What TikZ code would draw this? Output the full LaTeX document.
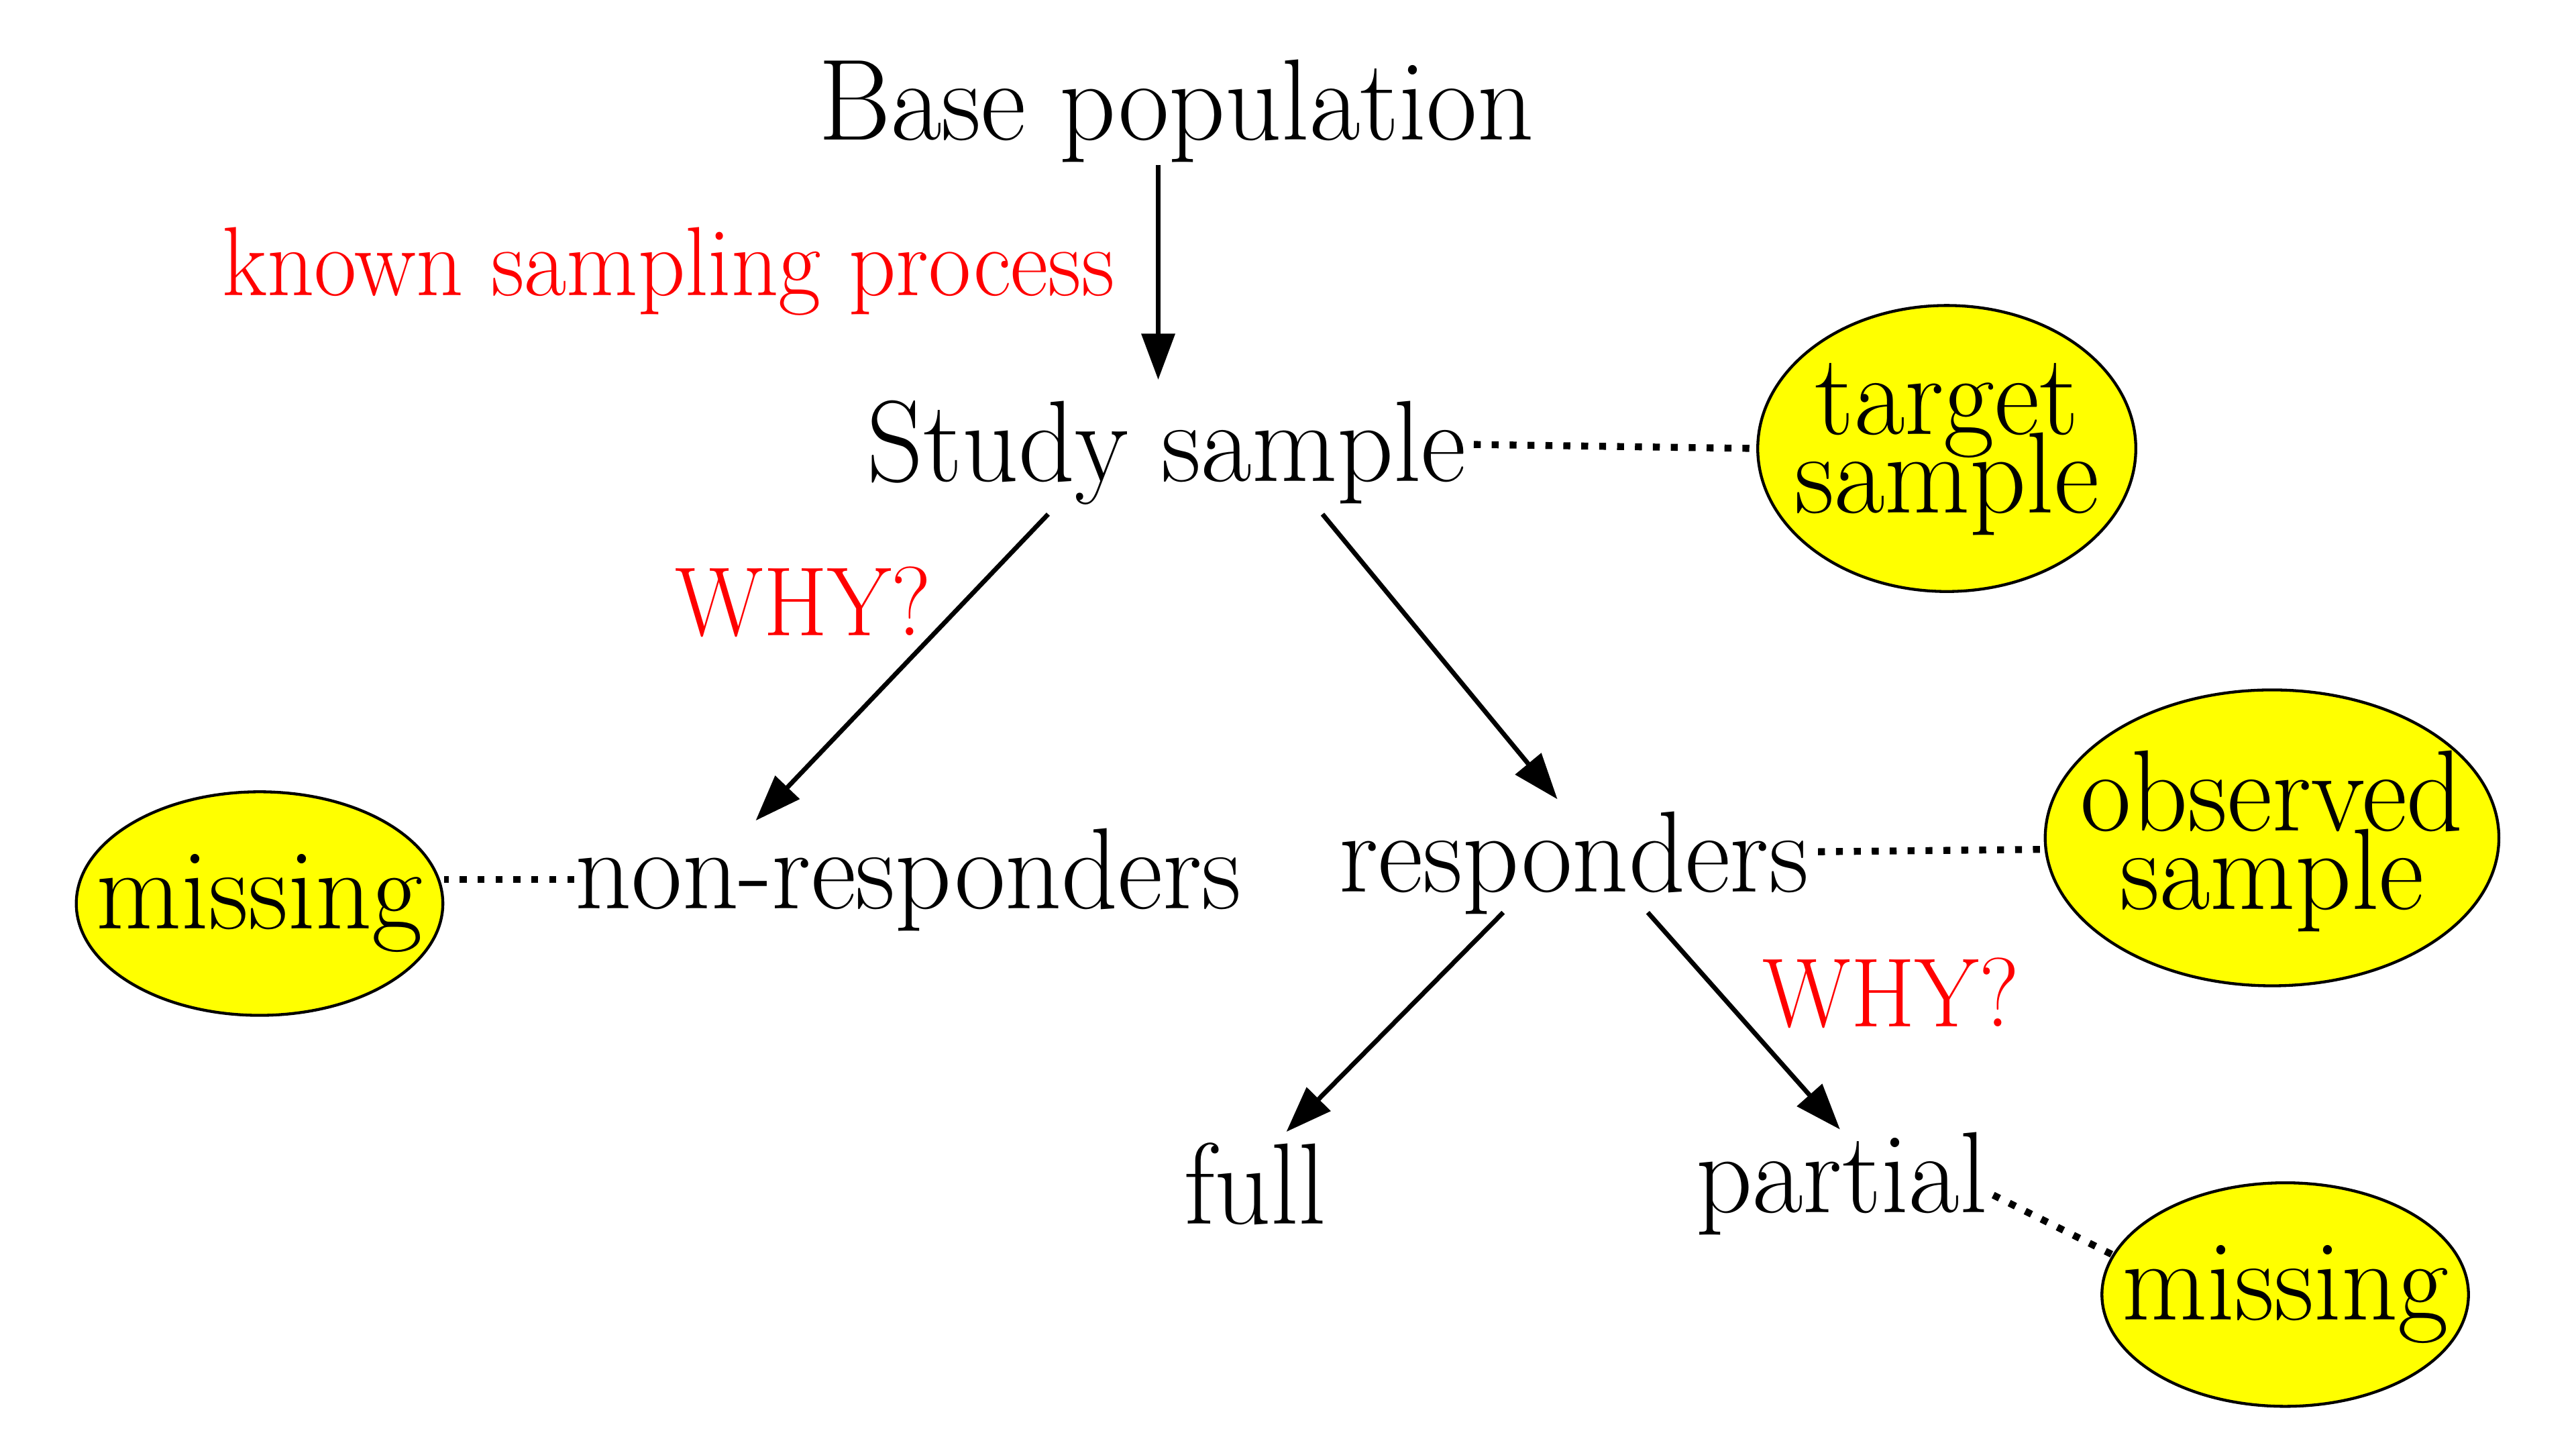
\documentclass[tikz,border=0pt]{standalone}
\usepackage{graphicx}
\usetikzlibrary{arrows.meta,shapes.geometric,calc}
\definecolor{lblred}{RGB}{255,0,0}
\definecolor{elyellow}{RGB}{255,255,0}
\newcommand{\sx}[1]{\scalebox{0.955}[1]{#1}}
\newcommand{\rx}[1]{\scalebox{0.94}[1]{#1}}
\newcommand{\zx}[1]{\makebox[0pt]{\sx{#1}}}
\newcommand{\twolines}[3]{\raisebox{#1}[0pt][0pt]{\makebox[0pt]{\sx{\begin{tabular}{@{}c@{}}#2\\[-10.4pt]#3\end{tabular}}}}}
\begin{document}
\begin{tikzpicture}[x=0.01cm,y=-0.01cm,
  txt/.style={inner sep=0pt, anchor=base, font=\fontsize{20}{24}\selectfont},
  lbl/.style={inner sep=0pt, anchor=base, text=lblred, font=\fontsize{17}{20}\selectfont},
  blob/.style={ellipse, draw=black, line width=0.5pt, fill=elyellow, inner sep=0pt,
    font=\fontsize{20}{24}\selectfont},
  arr/.style={-{Triangle[length=0.28cm,width=0.2cm]}, line width=0.8pt},
  dots/.style={line width=1.2pt, dash pattern=on 1.2pt off 1.9pt}]
\useasboundingbox (0,0) rectangle (1568,882);

% text nodes
\node[txt] (base) at (716,85) {\sx{Base population}};
\node[lbl] (known) at (407,180) {\rx{known sampling process}};
\node[txt] (study) at (710,293) {\sx{Study sample}};
\node[lbl] (why1) at (489,387) {\rx{WHY?}};
\node[txt] (nonresp) at (553,553) {\sx{non-responders}};
\node[txt] (resp) at (958,543) {\sx{responders}};
\node[lbl] (why2) at (1151,625) {\rx{WHY?}};
\node[txt] (full) at (764,745) {\sx{full}};
\node[txt] (partial) at (1121,738) {\sx{partial}};

% ellipses
\node[blob, minimum width=2.30cm, minimum height=1.74cm] (tgt) at (1185,273) {\twolines{-4.7pt}{target}{sample}};
\node[blob, minimum width=2.76cm, minimum height=1.80cm] (obs) at (1383,510) {\twolines{-6pt}{observed}{sample}};
\node[blob, minimum width=2.23cm, minimum height=1.36cm] (missL) at (158,550) {\zx{missing}};
\node[blob, minimum width=2.23cm, minimum height=1.36cm] (missR) at (1391,788) {\zx{missing}};

% arrows
\draw[arr] ($(base.south)+(-11,1)$) -- ($(study.north)+(-5,-12)$);
\draw[arr] ($(study.south)+(-72,5)$) -- ($(nonresp.north)+(-93,-4)$);
\draw[arr] ($(study.south)+(95,5)$) -- ($(resp.north)+(-10,-7)$);
\draw[arr] ($(resp.south)+(-43,-2)$) -- ($(full.north)+(19,-6)$);
\draw[arr] ($(resp.south)+(45,-2)$) -- ($(partial.north)+(-1,-1)$);

% dotted connectors
\draw[dots] ($(study.east)+(4,-5)$) -- (tgt.west);
\draw[dots] (nonresp.west) -- (missL.east |- nonresp.west);
\draw[dots] ($(resp.east)+(5,-7)$) -- ($(obs.west)+(0,7)$);
\draw[dots] ($(partial.east)+(3,7)$) -- (missR.167);
\end{tikzpicture}
\end{document}
